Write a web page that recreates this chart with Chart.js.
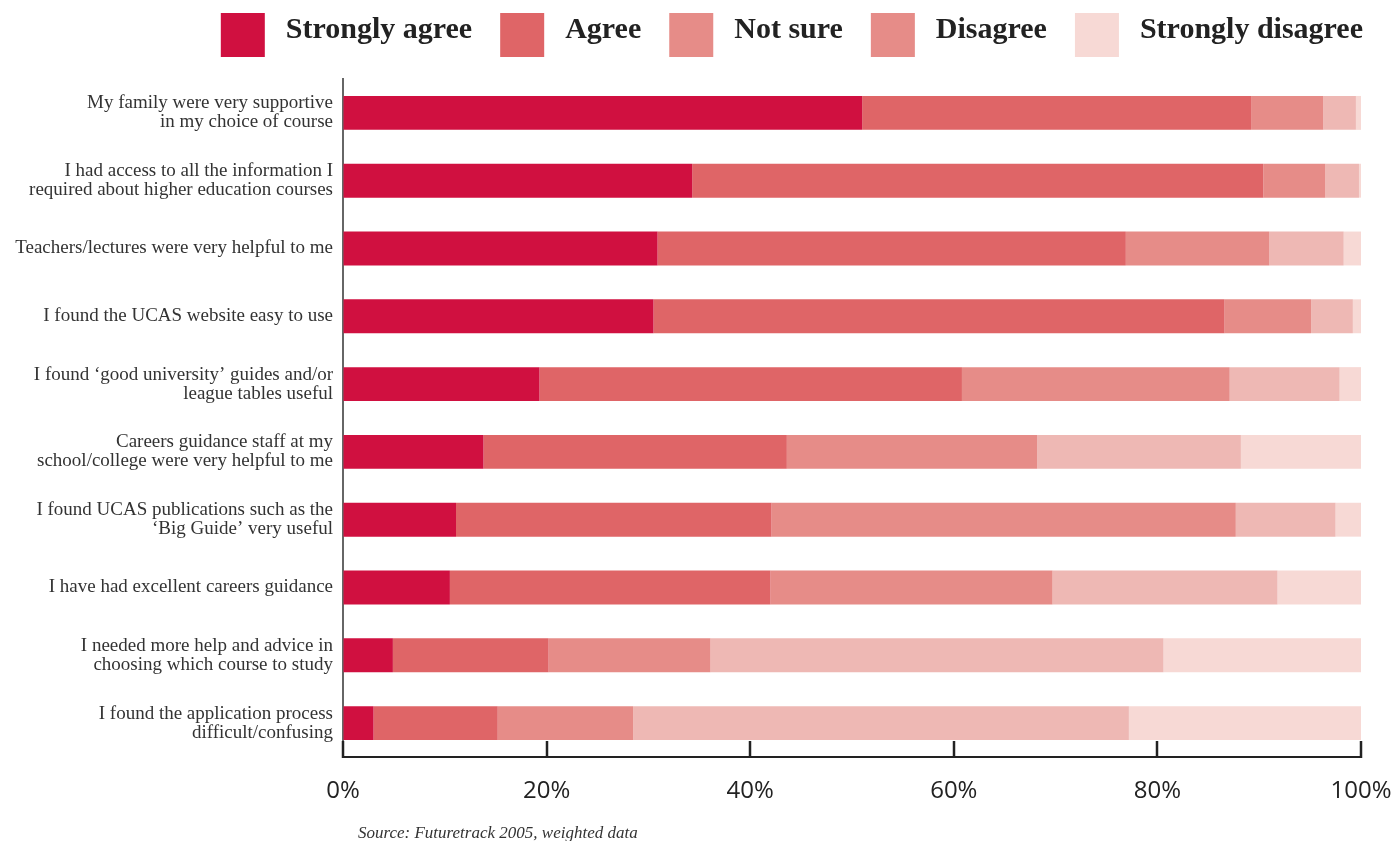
<!DOCTYPE html>
<html>
<head>
<meta charset="utf-8">
<script src="https://cdn.jsdelivr.net/npm/chart.js@4"></script>
<style>
  html, body { margin: 0; padding: 0; background: #fff; }
  #wrap { width: 1394px; height: 841px; position: relative; }
</style>
</head>
<body>
<div id="wrap"><canvas id="chartCanvas" width="1394" height="841"></canvas></div>
<script>
// Survey statements (multi-line labels as arrays)
const statements = [
    ['My family were very supportive', 'in my choice of course'],
    ['I had access to all the information I', 'required about higher education courses'],
    'Teachers/lectures were very helpful to me',
    'I found the UCAS website easy to use',
    ['I found \u2018good university\u2019 guides and/or', 'league tables useful'],
    ['Careers guidance staff at my', 'school/college were very helpful to me'],
    ['I found UCAS publications such as the', '\u2018Big Guide\u2019 very useful'],
    'I have had excellent careers guidance',
    ['I needed more help and advice in', 'choosing which course to study'],
    ['I found the application process', 'difficult/confusing']
];

// Share of responses, percent
const stronglyAgree    = [51.0, 34.3, 30.9, 30.5, 19.3, 13.8, 11.1, 10.5, 4.9, 3.0];
const agree            = [38.2, 56.1, 46.0, 56.1, 41.5, 29.8, 31.0, 31.5, 15.3, 12.2];
const notSure          = [7.1, 6.1, 14.1, 8.5, 26.3, 24.6, 45.6, 27.7, 15.9, 13.3];
const disagree         = [3.2, 3.3, 7.3, 4.1, 10.8, 20.0, 9.8, 22.1, 44.5, 48.7];
const stronglyDisagree = [0.5, 0.2, 1.7, 0.8, 2.1, 11.8, 2.5, 8.2, 19.4, 22.8];

const seriesNames  = ['Strongly agree', 'Agree', 'Not sure', 'Disagree', 'Strongly disagree'];
const barColors    = ['#d01040', '#df6567', '#e68c88', '#eeb8b4', '#f7d9d5'];
// legend swatches as printed (Disagree shares the Not sure swatch)
const swatchColors = ['#d01040', '#df6567', '#e68c88', '#e68c88', '#f7d9d5'];
const xTicks = [0, 20, 40, 60, 80, 100];
const sourceNote = 'Source: Futuretrack 2005, weighted data';

const seriesData = [stronglyAgree, agree, notSure, disagree, stronglyDisagree];

// legend row drawn across the top, right-aligned with the plot
const topLegend = {
    id: 'topLegend',
    afterDraw(chart) {
        const ctx = chart.ctx;
        const box = 44, gapText = 21, gapItem = 28;
        ctx.save();
        ctx.font = 'bold 30px "Liberation Serif", serif';
        const widths = seriesNames.map(n => ctx.measureText(n).width);
        let total = 0;
        widths.forEach((w, i) => { total += box + gapText + w + (i < widths.length - 1 ? gapItem : 0); });
        let x = chart.chartArea.right + 2 - total;
        const y = 13;
        ctx.textBaseline = 'middle';
        seriesNames.forEach((name, i) => {
            ctx.fillStyle = swatchColors[i];
            ctx.fillRect(x, y, box, box);
            ctx.fillStyle = '#222';
            ctx.fillText(name, x + box + gapText, y + box / 2 - 5);
            x += box + gapText + widths[i] + gapItem;
        });
        ctx.restore();
    }
};

// short tick marks pointing up from the x axis, plus the source line
const axisExtras = {
    id: 'axisExtras',
    afterDraw(chart) {
        const ctx = chart.ctx;
        const xs = chart.scales.x;
        const bottom = chart.chartArea.bottom;
        ctx.save();
        ctx.strokeStyle = '#222';
        ctx.lineWidth = 2.5;
        xTicks.forEach(v => {
            const px = Math.round(xs.getPixelForValue(v));
            ctx.beginPath();
            ctx.moveTo(px, bottom - 16);
            ctx.lineTo(px, bottom + 1);
            ctx.stroke();
        });
        ctx.font = 'italic 17px "Liberation Serif", serif';
        ctx.fillStyle = '#333';
        ctx.textBaseline = 'alphabetic';
        ctx.fillText(sourceNote, chart.chartArea.left + 15, 838);
        ctx.restore();
    }
};

const ctx = document.getElementById('chartCanvas').getContext('2d');
const chart = new Chart(ctx, {
    type: 'bar',
    data: {
        labels: statements,
        datasets: seriesData.map((d, i) => ({
            label: seriesNames[i],
            data: d,
            backgroundColor: barColors[i],
            borderWidth: 0,
            categoryPercentage: 1,
            barPercentage: 0.5
        }))
    },
    options: {
        indexAxis: 'y',
        responsive: false,
        animation: false,
        layout: { padding: { top: 79, right: 33, left: 0, bottom: 0 } },
        plugins: {
            legend: { display: false },
            tooltip: { enabled: false }
        },
        scales: {
            x: {
                stacked: true,
                min: 0,
                max: 100,
                afterBuildTicks(scale) {
                    scale.ticks = xTicks.map(v => ({ value: v }));
                },
                afterFit(scale) {
                    scale.height = 84;
                    scale.paddingLeft = 0;
                    scale.paddingRight = 0;
                },
                grid: { display: true, drawOnChartArea: false, drawTicks: false },
                border: { display: true, color: '#222', width: 2 },
                ticks: {
                    padding: 20,
                    color: '#222',
                    font: { family: '"Open Sans", sans-serif', size: 24 },
                    callback: v => v + '%'
                }
            },
            y: {
                stacked: true,
                afterFit(scale) { scale.width = 343; },
                grid: { display: true, drawOnChartArea: false, drawTicks: false },
                border: { display: true, color: '#666', width: 2 },
                ticks: {
                    padding: 10,
                    color: '#333',
                    autoSkip: false,
                    font: { family: '"Liberation Serif", serif', size: 19, lineHeight: 1.0 }
                }
            }
        }
    },
    plugins: [topLegend, axisExtras]
});
</script>
</body>
</html>
